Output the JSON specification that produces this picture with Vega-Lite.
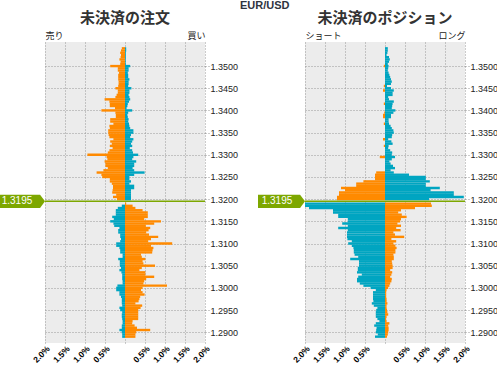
{
  "$schema": "https://vega.github.io/schema/vega-lite/v6.json",
  "autosize": {"type": "none"},
  "padding": {"left": 45, "top": 42, "right": 452, "bottom": 323},
  "background": "white",
  "title": {"text": "EUR/USD", "font": "Liberation Sans", "fontSize": 11, "fontWeight": "bold", "color": "#2e3440", "anchor": "start", "frame": "group", "dx": 195, "offset": 0},
  "datasets": {
    "current": [{"price": 1.3195}],
    "orders": [
      {"p":1.3540,"l":-0.08,"r":0.03},{"p":1.3535,"l":-0.10,"r":0.03},{"p":1.3530,"l":-0.12,"r":0.02},{"p":1.3525,"l":-0.10,"r":0.02},
      {"p":1.3520,"l":-0.11,"r":0.02},{"p":1.3515,"l":-0.14,"r":0.02},{"p":1.3510,"l":-0.11,"r":0.02},{"p":1.3505,"l":-0.12,"r":0.02},
      {"p":1.3500,"l":-0.37,"r":0.13},{"p":1.3495,"l":-0.18,"r":0.09},{"p":1.3490,"l":-0.18,"r":0.09},{"p":1.3485,"l":-0.15,"r":0.07},
      {"p":1.3480,"l":-0.17,"r":0.08},{"p":1.3475,"l":-0.17,"r":0.08},{"p":1.3470,"l":-0.17,"r":0.11},{"p":1.3465,"l":-0.16,"r":0.09},
      {"p":1.3460,"l":-0.16,"r":0.09},{"p":1.3455,"l":-0.17,"r":0.08},{"p":1.3450,"l":-0.24,"r":0.16},{"p":1.3445,"l":-0.18,"r":0.11},
      {"p":1.3440,"l":-0.18,"r":0.11},{"p":1.3435,"l":-0.21,"r":0.09},{"p":1.3430,"l":-0.24,"r":0.11},{"p":1.3425,"l":-0.51,"r":0.13},
      {"p":1.3420,"l":-0.39,"r":0.10},{"p":1.3415,"l":-0.38,"r":0.07},{"p":1.3410,"l":-0.38,"r":0.06},{"p":1.3405,"l":-0.25,"r":0.04},
      {"p":1.3400,"l":-0.59,"r":0.18},{"p":1.3395,"l":-0.24,"r":0.08},{"p":1.3390,"l":-0.23,"r":0.06},{"p":1.3385,"l":-0.23,"r":0.07},
      {"p":1.3380,"l":-0.37,"r":0.09},{"p":1.3375,"l":-0.37,"r":0.08},{"p":1.3370,"l":-0.29,"r":0.10},{"p":1.3365,"l":-0.39,"r":0.11},
      {"p":1.3360,"l":-0.38,"r":0.13},{"p":1.3355,"l":-0.42,"r":0.21},{"p":1.3350,"l":-0.42,"r":0.21},{"p":1.3345,"l":-0.41,"r":0.15},
      {"p":1.3340,"l":-0.39,"r":0.13},{"p":1.3335,"l":-0.29,"r":0.21},{"p":1.3330,"l":-0.37,"r":0.18},{"p":1.3325,"l":-0.33,"r":0.15},
      {"p":1.3320,"l":-0.38,"r":0.18},{"p":1.3315,"l":-0.31,"r":0.12},{"p":1.3310,"l":-0.39,"r":0.18},{"p":1.3305,"l":-0.43,"r":0.20},
      {"p":1.3300,"l":-0.94,"r":0.33},{"p":1.3295,"l":-0.46,"r":0.21},{"p":1.3290,"l":-0.44,"r":0.18},{"p":1.3285,"l":-0.51,"r":0.28},
      {"p":1.3280,"l":-0.49,"r":0.23},{"p":1.3275,"l":-0.49,"r":0.23},{"p":1.3270,"l":-0.43,"r":0.19},{"p":1.3265,"l":-0.54,"r":0.23},
      {"p":1.3260,"l":-0.71,"r":0.49},{"p":1.3255,"l":-0.59,"r":0.23},{"p":1.3250,"l":-0.57,"r":0.11},{"p":1.3245,"l":-0.38,"r":0.11},
      {"p":1.3240,"l":-0.38,"r":0.15},{"p":1.3235,"l":-0.33,"r":0.11},{"p":1.3230,"l":-0.30,"r":0.23},{"p":1.3225,"l":-0.30,"r":0.23},
      {"p":1.3220,"l":-0.31,"r":0.15},{"p":1.3215,"l":-0.32,"r":0.15},{"p":1.3210,"l":-0.22,"r":0.15},{"p":1.3205,"l":-0.30,"r":0.15},
      {"p":1.3200,"l":-0.20,"r":0.15},
      {"p":1.3190,"l":0,"r":0.03},{"p":1.3185,"l":-0.08,"r":0.19},{"p":1.3180,"l":-0.18,"r":0.26},{"p":1.3175,"l":-0.23,"r":0.44},
      {"p":1.3170,"l":-0.23,"r":0.57},{"p":1.3165,"l":-0.23,"r":0.57},{"p":1.3160,"l":-0.32,"r":0.57},{"p":1.3155,"l":-0.28,"r":0.48},
      {"p":1.3150,"l":-0.37,"r":0.90},{"p":1.3145,"l":-0.29,"r":0.73},{"p":1.3140,"l":-0.27,"r":0.52},{"p":1.3135,"l":-0.14,"r":0.63},
      {"p":1.3130,"l":-0.17,"r":0.59},{"p":1.3125,"l":-0.17,"r":0.53},{"p":1.3120,"l":-0.12,"r":0.60},{"p":1.3115,"l":-0.12,"r":0.83},
      {"p":1.3110,"l":-0.10,"r":0.65},{"p":1.3105,"l":-0.12,"r":0.58},{"p":1.3100,"l":-0.22,"r":1.18},{"p":1.3095,"l":-0.22,"r":0.65},
      {"p":1.3090,"l":-0.14,"r":0.71},{"p":1.3085,"l":-0.12,"r":0.69},{"p":1.3080,"l":-0.12,"r":0.68},{"p":1.3075,"l":-0.06,"r":0.40},
      {"p":1.3070,"l":-0.06,"r":0.42},{"p":1.3065,"l":-0.17,"r":0.51},{"p":1.3060,"l":-0.13,"r":0.44},{"p":1.3055,"l":-0.13,"r":0.46},
      {"p":1.3050,"l":-0.13,"r":0.75},{"p":1.3045,"l":-0.10,"r":0.42},{"p":1.3040,"l":-0.14,"r":0.36},{"p":1.3035,"l":-0.09,"r":0.51},
      {"p":1.3030,"l":-0.07,"r":0.51},{"p":1.3025,"l":-0.07,"r":0.73},{"p":1.3020,"l":-0.07,"r":0.53},{"p":1.3015,"l":-0.06,"r":0.48},
      {"p":1.3010,"l":-0.06,"r":0.46},{"p":1.3005,"l":-0.19,"r":1.05},{"p":1.3000,"l":-0.22,"r":0.44},{"p":1.2995,"l":-0.22,"r":0.40},
      {"p":1.2990,"l":-0.14,"r":0.44},{"p":1.2985,"l":-0.14,"r":0.49},{"p":1.2980,"l":-0.10,"r":0.38},{"p":1.2975,"l":-0.08,"r":0.36},
      {"p":1.2970,"l":-0.08,"r":0.34},{"p":1.2965,"l":-0.08,"r":0.26},{"p":1.2960,"l":-0.07,"r":0.43},{"p":1.2955,"l":-0.14,"r":0.39},
      {"p":1.2950,"l":-0.12,"r":0.33},{"p":1.2945,"l":-0.07,"r":0.33},{"p":1.2940,"l":-0.08,"r":0.33},{"p":1.2935,"l":-0.08,"r":0.33},
      {"p":1.2930,"l":-0.07,"r":0.33},{"p":1.2925,"l":-0.06,"r":0.19},{"p":1.2920,"l":-0.06,"r":0.18},{"p":1.2915,"l":-0.08,"r":0.24},
      {"p":1.2910,"l":-0.08,"r":0.30},{"p":1.2905,"l":-0.14,"r":0.63},{"p":1.2900,"l":-0.08,"r":0.28},{"p":1.2895,"l":-0.07,"r":0.26},
      {"p":1.2890,"l":-0.07,"r":0.26}
    ],
    "positions": [
      {"p":1.3540,"l":0,"r":0.07},{"p":1.3535,"l":0,"r":0.07},{"p":1.3530,"l":0,"r":0.06},{"p":1.3525,"l":0,"r":0.04},
      {"p":1.3520,"l":0,"r":0.10},{"p":1.3515,"l":0,"r":0.12},{"p":1.3510,"l":0,"r":0.10},{"p":1.3505,"l":0,"r":0.07},
      {"p":1.3500,"l":-0.03,"r":0.09},{"p":1.3495,"l":0,"r":0.08},{"p":1.3490,"l":0,"r":0.07},{"p":1.3485,"l":0,"r":0.09},
      {"p":1.3480,"l":0,"r":0.11},{"p":1.3475,"l":0,"r":0.13},{"p":1.3470,"l":0,"r":0.15},{"p":1.3465,"l":0,"r":0.17},
      {"p":1.3460,"l":0,"r":0.15},{"p":1.3455,"l":-0.03,"r":0.05},{"p":1.3450,"l":0,"r":0.15},{"p":1.3445,"l":-0.05,"r":0.22},
      {"p":1.3440,"l":0,"r":0.19},{"p":1.3435,"l":0,"r":0.19},{"p":1.3430,"l":0,"r":0.08},{"p":1.3425,"l":0,"r":0.10},
      {"p":1.3420,"l":0,"r":0.22},{"p":1.3415,"l":-0.03,"r":0.19},{"p":1.3410,"l":0,"r":0.18},{"p":1.3405,"l":0,"r":0.17},
      {"p":1.3400,"l":0,"r":0.26},{"p":1.3395,"l":-0.02,"r":0.21},{"p":1.3390,"l":-0.05,"r":0.15},{"p":1.3385,"l":-0.05,"r":0.15},
      {"p":1.3380,"l":0,"r":0.09},{"p":1.3375,"l":0,"r":0.09},{"p":1.3370,"l":-0.03,"r":0.10},{"p":1.3365,"l":0,"r":0.14},
      {"p":1.3360,"l":0,"r":0.17},{"p":1.3355,"l":0,"r":0.21},{"p":1.3350,"l":0,"r":0.22},{"p":1.3345,"l":0,"r":0.18},
      {"p":1.3340,"l":0,"r":0.17},{"p":1.3335,"l":-0.05,"r":0.08},{"p":1.3330,"l":0,"r":0.16},{"p":1.3325,"l":0,"r":0.19},
      {"p":1.3320,"l":-0.03,"r":0.09},{"p":1.3315,"l":0,"r":0.08},{"p":1.3310,"l":0,"r":0.13},{"p":1.3305,"l":0,"r":0.18},
      {"p":1.3300,"l":0,"r":0.17},{"p":1.3295,"l":-0.13,"r":0.25},{"p":1.3290,"l":0,"r":0.17},{"p":1.3285,"l":0,"r":0.11},
      {"p":1.3280,"l":0,"r":0.14},{"p":1.3275,"l":0,"r":0.20},{"p":1.3270,"l":0,"r":0.25},{"p":1.3265,"l":0,"r":0.14},
      {"p":1.3260,"l":-0.22,"r":0.22},{"p":1.3255,"l":-0.25,"r":0.60},{"p":1.3250,"l":-0.25,"r":1.02},{"p":1.3245,"l":-0.25,"r":1.02},
      {"p":1.3240,"l":-0.54,"r":1.12},{"p":1.3235,"l":-0.72,"r":1.02},{"p":1.3230,"l":-0.72,"r":1.02},{"p":1.3225,"l":-1.10,"r":1.37},
      {"p":1.3220,"l":-1.00,"r":1.14},{"p":1.3215,"l":-1.15,"r":1.72},{"p":1.3210,"l":-1.15,"r":1.72},{"p":1.3205,"l":-1.20,"r":1.97},
      {"p":1.3200,"l":-1.20,"r":1.10},
      {"p":1.3190,"l":-2.00,"r":1.15},{"p":1.3185,"l":-2.00,"r":1.17},{"p":1.3180,"l":-1.90,"r":0.75},{"p":1.3175,"l":-1.30,"r":0.40},
      {"p":1.3170,"l":-1.30,"r":0.33},{"p":1.3165,"l":-1.17,"r":0.42},{"p":1.3160,"l":-1.17,"r":0.54},{"p":1.3155,"l":-0.93,"r":0.40},
      {"p":1.3150,"l":-0.93,"r":0.38},{"p":1.3145,"l":-1.07,"r":0.31},{"p":1.3140,"l":-0.93,"r":0.40},{"p":1.3135,"l":-1.17,"r":0.28},
      {"p":1.3130,"l":-0.93,"r":0.39},{"p":1.3125,"l":-0.95,"r":0.21},{"p":1.3120,"l":-0.95,"r":0.25},{"p":1.3115,"l":-0.95,"r":0.48},
      {"p":1.3110,"l":-0.94,"r":0.16},{"p":1.3105,"l":-0.83,"r":0.28},{"p":1.3100,"l":-0.92,"r":0.21},{"p":1.3095,"l":-0.83,"r":0.26},
      {"p":1.3090,"l":-0.79,"r":0.29},{"p":1.3085,"l":-0.78,"r":0.26},{"p":1.3080,"l":-0.78,"r":0.26},{"p":1.3075,"l":-0.76,"r":0.21},
      {"p":1.3070,"l":-0.67,"r":0.22},{"p":1.3065,"l":-0.87,"r":0.22},{"p":1.3060,"l":-0.65,"r":0.17},{"p":1.3055,"l":-0.65,"r":0.18},
      {"p":1.3050,"l":-0.65,"r":0.19},{"p":1.3045,"l":-0.68,"r":0.19},{"p":1.3040,"l":-0.68,"r":0.13},{"p":1.3035,"l":-0.70,"r":0.18},
      {"p":1.3030,"l":-0.58,"r":0.16},{"p":1.3025,"l":-0.67,"r":0.13},{"p":1.3020,"l":-0.70,"r":0.17},{"p":1.3015,"l":-0.70,"r":0.16},
      {"p":1.3010,"l":-0.63,"r":0.13},{"p":1.3005,"l":-0.54,"r":0.11},{"p":1.3000,"l":-0.36,"r":0.08},{"p":1.2995,"l":-0.23,"r":0.04},
      {"p":1.2990,"l":-0.30,"r":0.03},{"p":1.2985,"l":-0.30,"r":0.03},{"p":1.2980,"l":-0.30,"r":0.03},{"p":1.2975,"l":-0.30,"r":0.04},
      {"p":1.2970,"l":-0.29,"r":0.04},{"p":1.2965,"l":-0.33,"r":0.06},{"p":1.2960,"l":-0.28,"r":0.04},{"p":1.2955,"l":-0.19,"r":0.04},
      {"p":1.2950,"l":-0.22,"r":0.05},{"p":1.2945,"l":-0.23,"r":0.06},{"p":1.2940,"l":-0.23,"r":0.08},{"p":1.2935,"l":-0.23,"r":0.04},
      {"p":1.2930,"l":-0.19,"r":0.03},{"p":1.2925,"l":-0.14,"r":0.04},{"p":1.2920,"l":-0.23,"r":0.11},{"p":1.2915,"l":-0.27,"r":0.08},
      {"p":1.2910,"l":-0.21,"r":0.09},{"p":1.2905,"l":-0.22,"r":0.09},{"p":1.2900,"l":-0.23,"r":0.08},{"p":1.2895,"l":-0.18,"r":0.07},
      {"p":1.2890,"l":-0.25,"r":0.05}
    ]
  },
  "bounds": "flush",
  "spacing": 100,
  "hconcat": [
    {
      "width": 160, "height": 301,
      "title": {"text": "未決済の注文", "font": "Noto Sans CJK JP", "fontSize": 15, "fontWeight": "bold", "color": "#333333", "anchor": "middle", "frame": "group", "offset": 5},
      "resolve": {"axis": {"x": "independent"}},
      "layer": [
        {"data": {"name": "orders"}, "mark": {"type": "bar", "orient": "horizontal", "size": 2.4},
         "encoding": {
           "y": {"field": "p", "type": "quantitative", "scale": {"domain": [1.2887, 1.3543], "zero": false, "nice": false},
                 "axis": {"orient": "right", "title": null, "values": [1.29,1.295,1.3,1.305,1.31,1.315,1.32,1.325,1.33,1.335,1.34,1.345,1.35], "format": ".4f", "labelFont": "Liberation Sans", "labelFontSize": 9, "labelColor": "#222222", "tickSize": 4, "tickColor": "#999999", "tickDash": [1,2], "domain": false, "grid": true, "gridColor": "#999999", "gridDash": [1,2], "gridOpacity": 1, "labelPadding": 1, "labelFlush": false, "labelOverlap": false}},
           "x": {"field": "l", "type": "quantitative", "scale": {"domain": [-2, 2], "nice": false},
                 "axis": {"orient": "bottom", "title": null, "values": [-2,-1.5,-1,-0.5,0,0.5,1,1.5,2], "labelExpr": "datum.value == 0 ? '' : format(abs(datum.value), '.1f') + '%'", "labelAngle": -45, "labelFont": "Liberation Sans", "labelFontWeight": "bold", "labelFontSize": 8.5, "labelColor": "#000000", "ticks": false, "domain": false, "grid": true, "gridColor": "#999999", "gridDash": [1,2], "gridOpacity": 1, "labelPadding": 1, "labelFlush": false, "labelOverlap": false}},
           "color": {"condition": {"test": "datum.p > 1.3195", "value": "#ff8a00"}, "value": "#00a5c1"}
         }},
        {"data": {"name": "orders"}, "mark": {"type": "bar", "orient": "horizontal", "size": 2.4},
         "encoding": {
           "y": {"field": "p", "type": "quantitative", "scale": {"domain": [1.2887, 1.3543], "zero": false, "nice": false},
                 "axis": {"orient": "right", "title": null, "values": [1.29,1.295,1.3,1.305,1.31,1.315,1.32,1.325,1.33,1.335,1.34,1.345,1.35], "format": ".4f", "labelFont": "Liberation Sans", "labelFontSize": 9, "labelColor": "#222222", "tickSize": 4, "tickColor": "#999999", "tickDash": [1,2], "domain": false, "grid": true, "gridColor": "#999999", "gridDash": [1,2], "gridOpacity": 1, "labelPadding": 1, "labelFlush": false, "labelOverlap": false}},
           "x": {"field": "r", "type": "quantitative", "scale": {"domain": [-2, 2], "nice": false},
                 "axis": {"orient": "top", "title": null, "values": [-2, 2], "labelExpr": "datum.value < 0 ? '売り' : '買い'", "labelFont": "Noto Sans CJK JP", "labelFontSize": 9, "labelColor": "#222222", "ticks": false, "domain": false, "grid": false, "labelPadding": 2, "labelFlush": true, "labelOverlap": false}},
           "color": {"condition": {"test": "datum.p > 1.3195", "value": "#00a5c1"}, "value": "#ff8a00"}
         }},
        {"data": {"name": "current"}, "mark": {"type": "rule", "color": "#7da700", "strokeWidth": 1.5},
         "encoding": {"y": {"field": "price", "type": "quantitative", "scale": {"domain": [1.2887, 1.3543], "zero": false, "nice": false},
                 "axis": {"orient": "right", "title": null, "values": [1.29,1.295,1.3,1.305,1.31,1.315,1.32,1.325,1.33,1.335,1.34,1.345,1.35], "format": ".4f", "labelFont": "Liberation Sans", "labelFontSize": 9, "labelColor": "#222222", "tickSize": 4, "tickColor": "#999999", "tickDash": [1,2], "domain": false, "grid": true, "gridColor": "#999999", "gridDash": [1,2], "gridOpacity": 1, "labelPadding": 1, "labelFlush": false, "labelOverlap": false}}}},
        {"data": {"name": "current"}, "mark": {"type": "point", "shape": "M-1,-0.29L0.78,-0.29L1,0L0.78,0.29L-1,0.29Z", "size": 2025, "filled": true, "opacity": 1, "color": "#7da700", "strokeWidth": 0},
         "encoding": {"y": {"field": "price", "type": "quantitative", "scale": {"domain": [1.2887, 1.3543], "zero": false, "nice": false},
                 "axis": {"orient": "right", "title": null, "values": [1.29,1.295,1.3,1.305,1.31,1.315,1.32,1.325,1.33,1.335,1.34,1.345,1.35], "format": ".4f", "labelFont": "Liberation Sans", "labelFontSize": 9, "labelColor": "#222222", "tickSize": 4, "tickColor": "#999999", "tickDash": [1,2], "domain": false, "grid": true, "gridColor": "#999999", "gridDash": [1,2], "gridOpacity": 1, "labelPadding": 1, "labelFlush": false, "labelOverlap": false}},
                      "x": {"datum": -2.5625, "type": "quantitative", "scale": {"domain": [-2, 2], "nice": false}, "axis": null}}},
        {"data": {"name": "current"}, "mark": {"type": "text", "color": "white", "font": "Liberation Sans", "fontSize": 10, "align": "center", "baseline": "middle"},
         "encoding": {"y": {"field": "price", "type": "quantitative", "scale": {"domain": [1.2887, 1.3543], "zero": false, "nice": false},
                 "axis": {"orient": "right", "title": null, "values": [1.29,1.295,1.3,1.305,1.31,1.315,1.32,1.325,1.33,1.335,1.34,1.345,1.35], "format": ".4f", "labelFont": "Liberation Sans", "labelFontSize": 9, "labelColor": "#222222", "tickSize": 4, "tickColor": "#999999", "tickDash": [1,2], "domain": false, "grid": true, "gridColor": "#999999", "gridDash": [1,2], "gridOpacity": 1, "labelPadding": 1, "labelFlush": false, "labelOverlap": false}},
                      "x": {"datum": -2.7, "type": "quantitative", "scale": {"domain": [-2, 2], "nice": false}, "axis": null},
                      "text": {"field": "price", "type": "quantitative", "format": ".4f"}}}
      ]
    },
    {
      "width": 160, "height": 301,
      "title": {"text": "未決済のポジション", "font": "Noto Sans CJK JP", "fontSize": 15, "fontWeight": "bold", "color": "#333333", "anchor": "middle", "frame": "group", "offset": 5},
      "resolve": {"axis": {"x": "independent"}},
      "layer": [
        {"data": {"name": "positions"}, "mark": {"type": "bar", "orient": "horizontal", "size": 2.4},
         "encoding": {
           "y": {"field": "p", "type": "quantitative", "scale": {"domain": [1.2887, 1.3543], "zero": false, "nice": false},
                 "axis": {"orient": "right", "title": null, "values": [1.29,1.295,1.3,1.305,1.31,1.315,1.32,1.325,1.33,1.335,1.34,1.345,1.35], "format": ".4f", "labelFont": "Liberation Sans", "labelFontSize": 9, "labelColor": "#222222", "tickSize": 4, "tickColor": "#999999", "tickDash": [1,2], "domain": false, "grid": true, "gridColor": "#999999", "gridDash": [1,2], "gridOpacity": 1, "labelPadding": 1, "labelFlush": false, "labelOverlap": false}},
           "x": {"field": "l", "type": "quantitative", "scale": {"domain": [-2, 2], "nice": false},
                 "axis": {"orient": "bottom", "title": null, "values": [-2,-1.5,-1,-0.5,0,0.5,1,1.5,2], "labelExpr": "datum.value == 0 ? '' : format(abs(datum.value), '.1f') + '%'", "labelAngle": -45, "labelFont": "Liberation Sans", "labelFontWeight": "bold", "labelFontSize": 8.5, "labelColor": "#000000", "ticks": false, "domain": false, "grid": true, "gridColor": "#999999", "gridDash": [1,2], "gridOpacity": 1, "labelPadding": 1, "labelFlush": false, "labelOverlap": false}},
           "color": {"condition": {"test": "datum.p > 1.3195", "value": "#ff8a00"}, "value": "#00a5c1"}
         }},
        {"data": {"name": "positions"}, "mark": {"type": "bar", "orient": "horizontal", "size": 2.4},
         "encoding": {
           "y": {"field": "p", "type": "quantitative", "scale": {"domain": [1.2887, 1.3543], "zero": false, "nice": false},
                 "axis": {"orient": "right", "title": null, "values": [1.29,1.295,1.3,1.305,1.31,1.315,1.32,1.325,1.33,1.335,1.34,1.345,1.35], "format": ".4f", "labelFont": "Liberation Sans", "labelFontSize": 9, "labelColor": "#222222", "tickSize": 4, "tickColor": "#999999", "tickDash": [1,2], "domain": false, "grid": true, "gridColor": "#999999", "gridDash": [1,2], "gridOpacity": 1, "labelPadding": 1, "labelFlush": false, "labelOverlap": false}},
           "x": {"field": "r", "type": "quantitative", "scale": {"domain": [-2, 2], "nice": false},
                 "axis": {"orient": "top", "title": null, "values": [-2, 2], "labelExpr": "datum.value < 0 ? 'ショート' : 'ロング'", "labelFont": "Noto Sans CJK JP", "labelFontSize": 9, "labelColor": "#222222", "ticks": false, "domain": false, "grid": false, "labelPadding": 2, "labelFlush": true, "labelOverlap": false}},
           "color": {"condition": {"test": "datum.p > 1.3195", "value": "#00a5c1"}, "value": "#ff8a00"}
         }},
        {"data": {"name": "current"}, "mark": {"type": "rule", "color": "#7da700", "strokeWidth": 1.5},
         "encoding": {"y": {"field": "price", "type": "quantitative", "scale": {"domain": [1.2887, 1.3543], "zero": false, "nice": false},
                 "axis": {"orient": "right", "title": null, "values": [1.29,1.295,1.3,1.305,1.31,1.315,1.32,1.325,1.33,1.335,1.34,1.345,1.35], "format": ".4f", "labelFont": "Liberation Sans", "labelFontSize": 9, "labelColor": "#222222", "tickSize": 4, "tickColor": "#999999", "tickDash": [1,2], "domain": false, "grid": true, "gridColor": "#999999", "gridDash": [1,2], "gridOpacity": 1, "labelPadding": 1, "labelFlush": false, "labelOverlap": false}}}},
        {"data": {"name": "current"}, "mark": {"type": "point", "shape": "M-1,-0.28L0.79,-0.28L1,0L0.79,0.28L-1,0.28Z", "size": 2209, "filled": true, "opacity": 1, "color": "#7da700", "strokeWidth": 0},
         "encoding": {"y": {"field": "price", "type": "quantitative", "scale": {"domain": [1.2887, 1.3543], "zero": false, "nice": false},
                 "axis": {"orient": "right", "title": null, "values": [1.29,1.295,1.3,1.305,1.31,1.315,1.32,1.325,1.33,1.335,1.34,1.345,1.35], "format": ".4f", "labelFont": "Liberation Sans", "labelFontSize": 9, "labelColor": "#222222", "tickSize": 4, "tickColor": "#999999", "tickDash": [1,2], "domain": false, "grid": true, "gridColor": "#999999", "gridDash": [1,2], "gridOpacity": 1, "labelPadding": 1, "labelFlush": false, "labelOverlap": false}},
                      "x": {"datum": -2.5875, "type": "quantitative", "scale": {"domain": [-2, 2], "nice": false}, "axis": null}}},
        {"data": {"name": "current"}, "mark": {"type": "text", "color": "white", "font": "Liberation Sans", "fontSize": 10, "align": "center", "baseline": "middle"},
         "encoding": {"y": {"field": "price", "type": "quantitative", "scale": {"domain": [1.2887, 1.3543], "zero": false, "nice": false},
                 "axis": {"orient": "right", "title": null, "values": [1.29,1.295,1.3,1.305,1.31,1.315,1.32,1.325,1.33,1.335,1.34,1.345,1.35], "format": ".4f", "labelFont": "Liberation Sans", "labelFontSize": 9, "labelColor": "#222222", "tickSize": 4, "tickColor": "#999999", "tickDash": [1,2], "domain": false, "grid": true, "gridColor": "#999999", "gridDash": [1,2], "gridOpacity": 1, "labelPadding": 1, "labelFlush": false, "labelOverlap": false}},
                      "x": {"datum": -2.7, "type": "quantitative", "scale": {"domain": [-2, 2], "nice": false}, "axis": null},
                      "text": {"field": "price", "type": "quantitative", "format": ".4f"}}}
      ]
    }
  ],
  "config": {
    "view": {"fill": "#ececec", "stroke": null},
    "font": "Liberation Sans",
    "axis": {"labelOverlap": false}
  }
}
